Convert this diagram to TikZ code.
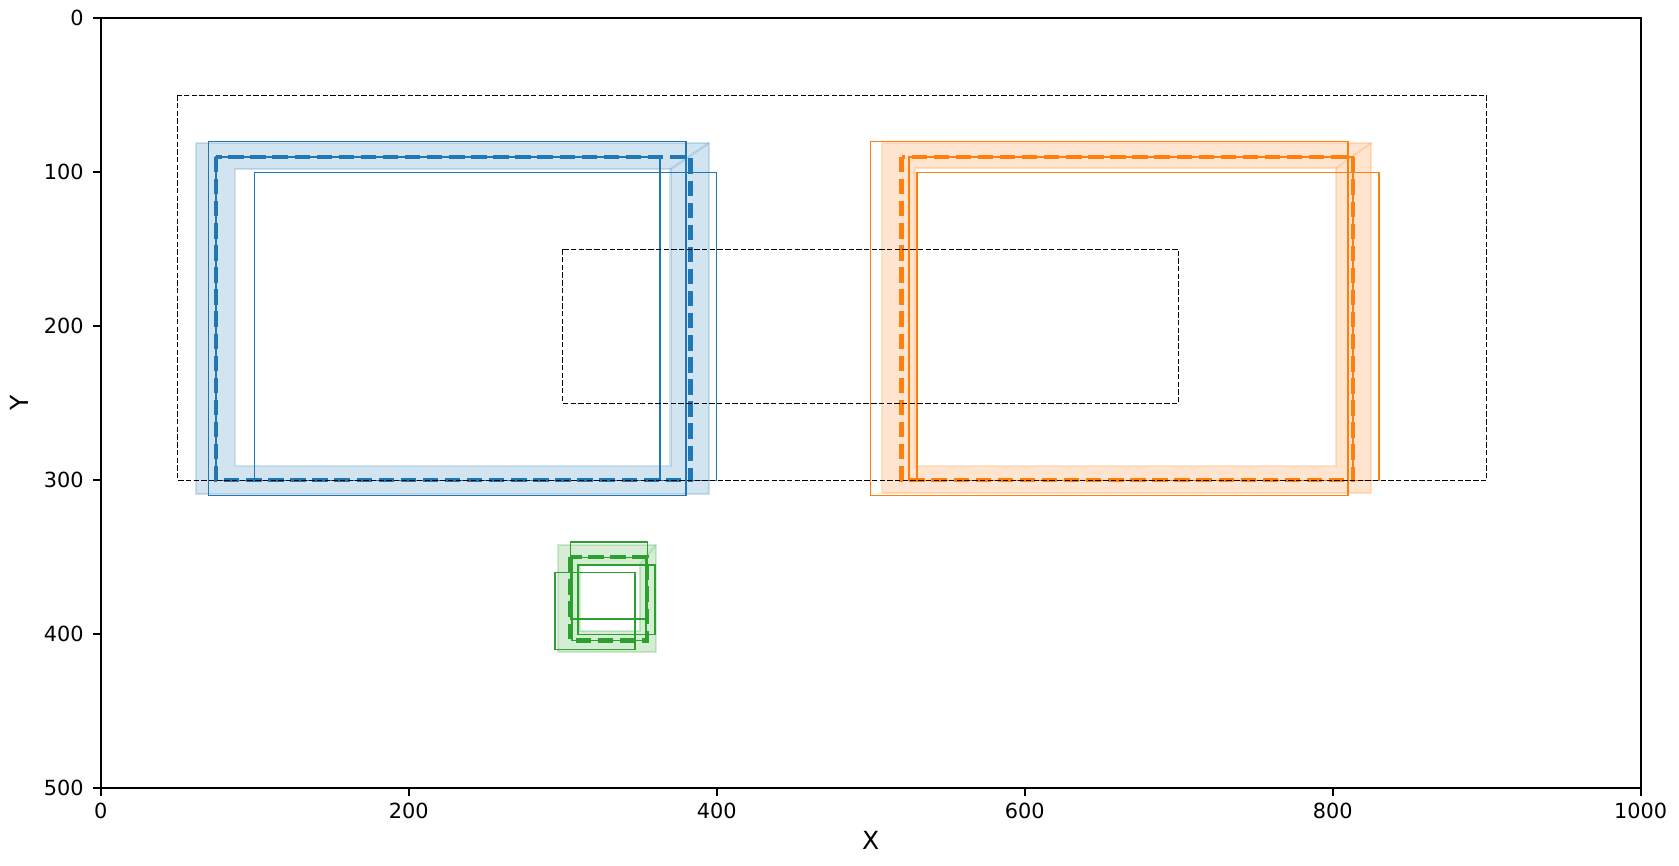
\documentclass[tikz,border=0pt]{standalone}
\usepackage{fontspec}
\setmainfont{DejaVu Sans}
\definecolor{tabblue}{HTML}{1F77B4}
\definecolor{taborange}{HTML}{FF7F0E}
\definecolor{tabgreen}{HTML}{2CA02C}
\begin{document}
\begin{tikzpicture}[x=0.7392pt, y=-0.7392pt,
  band/.style={fill opacity=0.2, draw opacity=0.2, line width=1pt, even odd rule},
  bandedge/.style={draw opacity=0.2, line width=1pt},
  thinbox/.style={line width=0.75pt},
  fusedbox/.style={line width=2pt, dash pattern=on 7.4pt off 3.2pt},
  regionbox/.style={line width=0.7pt, dash pattern=on 2.6pt off 1.1pt},
  axisline/.style={line width=0.8pt},
  ticklabel/.style={font=\fontsize{10}{12}\selectfont, inner sep=0pt},
  axislabel/.style={font=\fontsize{12}{14}\selectfont, inner sep=0pt}]
\useasboundingbox (-65.39,-11.88) rectangle (1024.87,550.45);

% uncertainty bands
\filldraw[band, draw=tabblue, fill=tabblue] (395,81) -- (62,81) -- (62,309) -- (395,309) -- cycle
  (370,98) -- (370,291) -- (87,291) -- (87,98) -- cycle;
\draw[bandedge, tabblue] (395,81) -- (370,98);
\filldraw[band, draw=taborange, fill=taborange] (825,81) -- (507.5,81) -- (507.5,308.5) -- (825,308.5) -- cycle
  (802,97.5) -- (802,291) -- (529,291) -- (529,97.5) -- cycle;
\draw[bandedge, taborange] (825,81) -- (802,97.5);
\filldraw[band, draw=tabgreen, fill=tabgreen] (360.5,342) -- (297,342) -- (297,411.5) -- (360.5,411.5) -- cycle
  (350,355) -- (350,398) -- (311,398) -- (311,355) -- cycle;
\draw[bandedge, tabgreen] (360.5,342) -- (350,355);

% individual boxes
\draw[thinbox, tabblue] (70,80) rectangle (380,310);
\draw[thinbox, tabblue] (100,100) rectangle (400,300);
\draw[thinbox, tabblue] (75,90) rectangle (363,300);
\draw[thinbox, taborange] (500,80) rectangle (810,310);
\draw[thinbox, taborange] (530,100) rectangle (830,300);
\draw[thinbox, taborange] (525,90) rectangle (813,300);
\draw[thinbox, tabgreen] (305,340) rectangle (355,390);
\draw[thinbox, tabgreen] (295,360) rectangle (347,410);
\draw[thinbox, tabgreen] (310,355) rectangle (360,400);
\draw[thinbox, tabgreen] (306,350) rectangle (354,404);

% fused boxes
\draw[fusedbox, tabblue] (75,90) rectangle (383,300);
\draw[fusedbox, taborange] (520,90) rectangle (813,300);
\draw[fusedbox, tabgreen] (305,350) rectangle (355,404);

% regions
\draw[regionbox, black] (50,50) rectangle (900,300);
\draw[regionbox, black] (300,150) rectangle (700,250);

% axes
\draw[axisline] (0,0) rectangle (1000,500);
\foreach \x in {0,200,400,600,800,1000} {
  \draw[axisline] (\x,500) -- ++(0pt,-3.5pt);
  \node[ticklabel, anchor=north, yshift=-7pt] (xt\x) at (\x,500) {\x};
}
\foreach \y in {0,100,200,300,400,500} {
  \draw[axisline] (0,\y) -- ++(-3.5pt,0pt);
  \node[ticklabel, anchor=east, xshift=-8pt] (yt\y) at (0,\y) {\y};
}
\node[axislabel] (xlab) at (500,534) {X};
\node[axislabel, rotate=90] (ylab) at (-52.9,250) {Y};
\end{tikzpicture}
\end{document}
